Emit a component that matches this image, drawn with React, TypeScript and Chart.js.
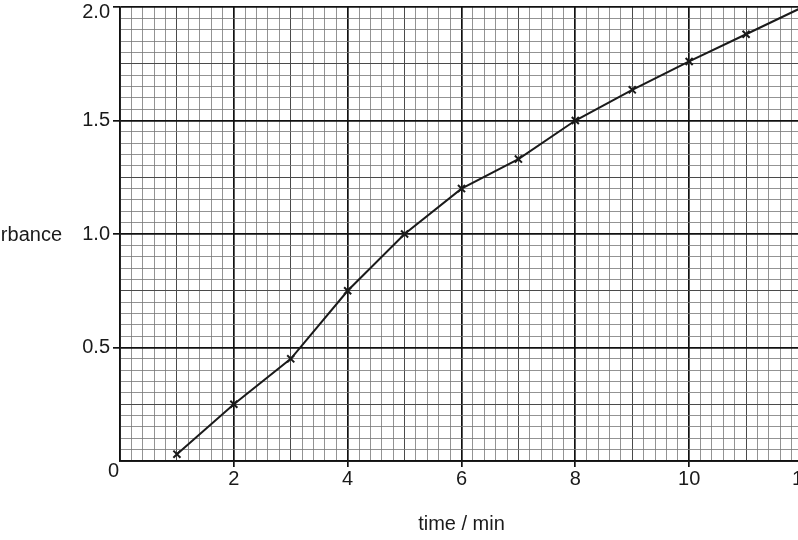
import { useEffect, useRef } from "react"
import { Chart, registerables } from "chart.js"

Chart.register(...registerables)

// readings taken off the graph paper
const times = [1, 2, 3, 4, 5, 6, 7, 8, 9, 10, 11, 12]
const absorbance = [0.03, 0.25, 0.45, 0.75, 1.0, 1.2, 1.33, 1.5, 1.635, 1.76, 1.88, 2.0]
const xTickLabels = [2, 4, 6, 8, 10, 12]
const yTickLabels = [0.5, 1.0, 1.5, 2.0]

const FONT = "'Liberation Sans', Arial, sans-serif"
const INK = "#1a1a1a"

// weight of a grid line: 2 = major, 1 = every 5 small squares, 0 = small square
function weight(value: number, step: number) {
  const n = Math.round(value / step)
  if (n % 10 === 0) return 2
  if (n % 5 === 0) return 1
  return 0
}

const widths = [0.8, 1, 1.7]
const colors = ["#777", "#4a4a4a", "#111"]

const originLabel = {
  id: "originLabel",
  afterDraw(chart: Chart) {
    const { ctx, scales } = chart
    const x = scales.x
    const y = scales.y
    ctx.save()
    ctx.fillStyle = INK
    ctx.font = `20px ${FONT}`
    ctx.textBaseline = "middle"
    ctx.textAlign = "right"
    ctx.fillText("0", x.getPixelForValue(0) - 1, y.getPixelForValue(0) + 10)
    // y-axis name, horizontal, partly cut by the left edge
    ctx.fillText("absorbance", 62, y.getPixelForValue(1.0) + 1)
    ctx.restore()
  },
}

export default function App() {
  const chartRef = useRef<HTMLCanvasElement>(null)
  const chartInstance = useRef<Chart | null>(null)

  useEffect(() => {
    if (!chartRef.current) return
    if (chartInstance.current) chartInstance.current.destroy()

    chartInstance.current = new Chart(chartRef.current, {
      type: "line",
      data: {
        datasets: [
          {
            data: times.map((t, i) => ({ x: t, y: absorbance[i] })),
            borderColor: INK,
            borderWidth: 2,
            tension: 0,
            pointStyle: "crossRot",
            pointRadius: 5,
            pointBorderWidth: 2,
            pointBorderColor: INK,
            clip: false,
          },
        ],
      },
      options: {
        responsive: false,
        animation: false,
        layout: { padding: { left: 0, top: 6, right: 17, bottom: 0 } },
        plugins: {
          legend: { display: false },
          tooltip: { enabled: false },
        },
        scales: {
          x: {
            type: "linear",
            min: 0,
            max: 12,
            afterFit: (scale: any) => {
              scale.height = 79
              scale.paddingLeft = 0
              scale.paddingRight = 0
            },
            border: { display: true, color: "#111", width: 1.7 },
            grid: {
              lineWidth: (c: any) => (c.tick ? widths[weight(c.tick.value, 0.2)] : 1),
              color: (c: any) => (c.tick ? colors[weight(c.tick.value, 0.2)] : "#111"),
              tickLength: 6,
              tickWidth: 1.7,
              tickColor: (c: any) =>
                c.tick && xTickLabels.includes(Math.round(c.tick.value * 10) / 10) ? "#111" : "rgba(0,0,0,0)",
            },
            ticks: {
              stepSize: 0.2,
              maxTicksLimit: 1000,
              autoSkip: false,
              maxRotation: 0,
              padding: 0,
              color: INK,
              font: { family: FONT, size: 20 },
              callback: (value: any) => {
                const v = Math.round(Number(value) * 10) / 10
                return xTickLabels.includes(v) ? String(v) : ""
              },
            },
            title: {
              display: true,
              text: "time / min",
              color: INK,
              font: { family: FONT, size: 20 },
              padding: { top: 0, bottom: 4 },
            },
          },
          y: {
            type: "linear",
            min: 0,
            max: 2,
            afterFit: (scale: any) => {
              scale.width = 120
              scale.paddingTop = 0
              scale.paddingBottom = 0
            },
            border: { display: true, color: "#111", width: 1.7 },
            grid: {
              lineWidth: (c: any) => (c.tick ? widths[weight(c.tick.value, 0.05)] : 1),
              color: (c: any) => (c.tick ? colors[weight(c.tick.value, 0.05)] : "#111"),
              tickLength: 7,
              tickWidth: 1.7,
              tickColor: (c: any) =>
                c.tick && yTickLabels.includes(Math.round(c.tick.value * 100) / 100) ? "#111" : "rgba(0,0,0,0)",
            },
            ticks: {
              stepSize: 0.05,
              maxTicksLimit: 1000,
              autoSkip: false,
              padding: 3,
              color: INK,
              font: { family: FONT, size: 20, lineHeight: "10px" },
              callback: (value: any) => {
                const v = Math.round(Number(value) * 100) / 100
                if (!yTickLabels.includes(v)) return ""
                // top label sits a little below its line, as on the paper
                return v === 2 ? ["", v.toFixed(1)] : v.toFixed(1)
              },
            },
          },
        },
      },
      plugins: [originLabel],
    })

    return () => {
      if (chartInstance.current) {
        chartInstance.current.destroy()
        chartInstance.current = null
      }
    }
  }, [])

  return (
    <div
      style={{
        position: "fixed",
        left: 0,
        top: 0,
        width: 798,
        height: 540,
        overflow: "hidden",
        background: "#fff",
      }}
    >
      <canvas ref={chartRef} width={820} height={540} style={{ width: 820, height: 540 }} />
    </div>
  )
}
